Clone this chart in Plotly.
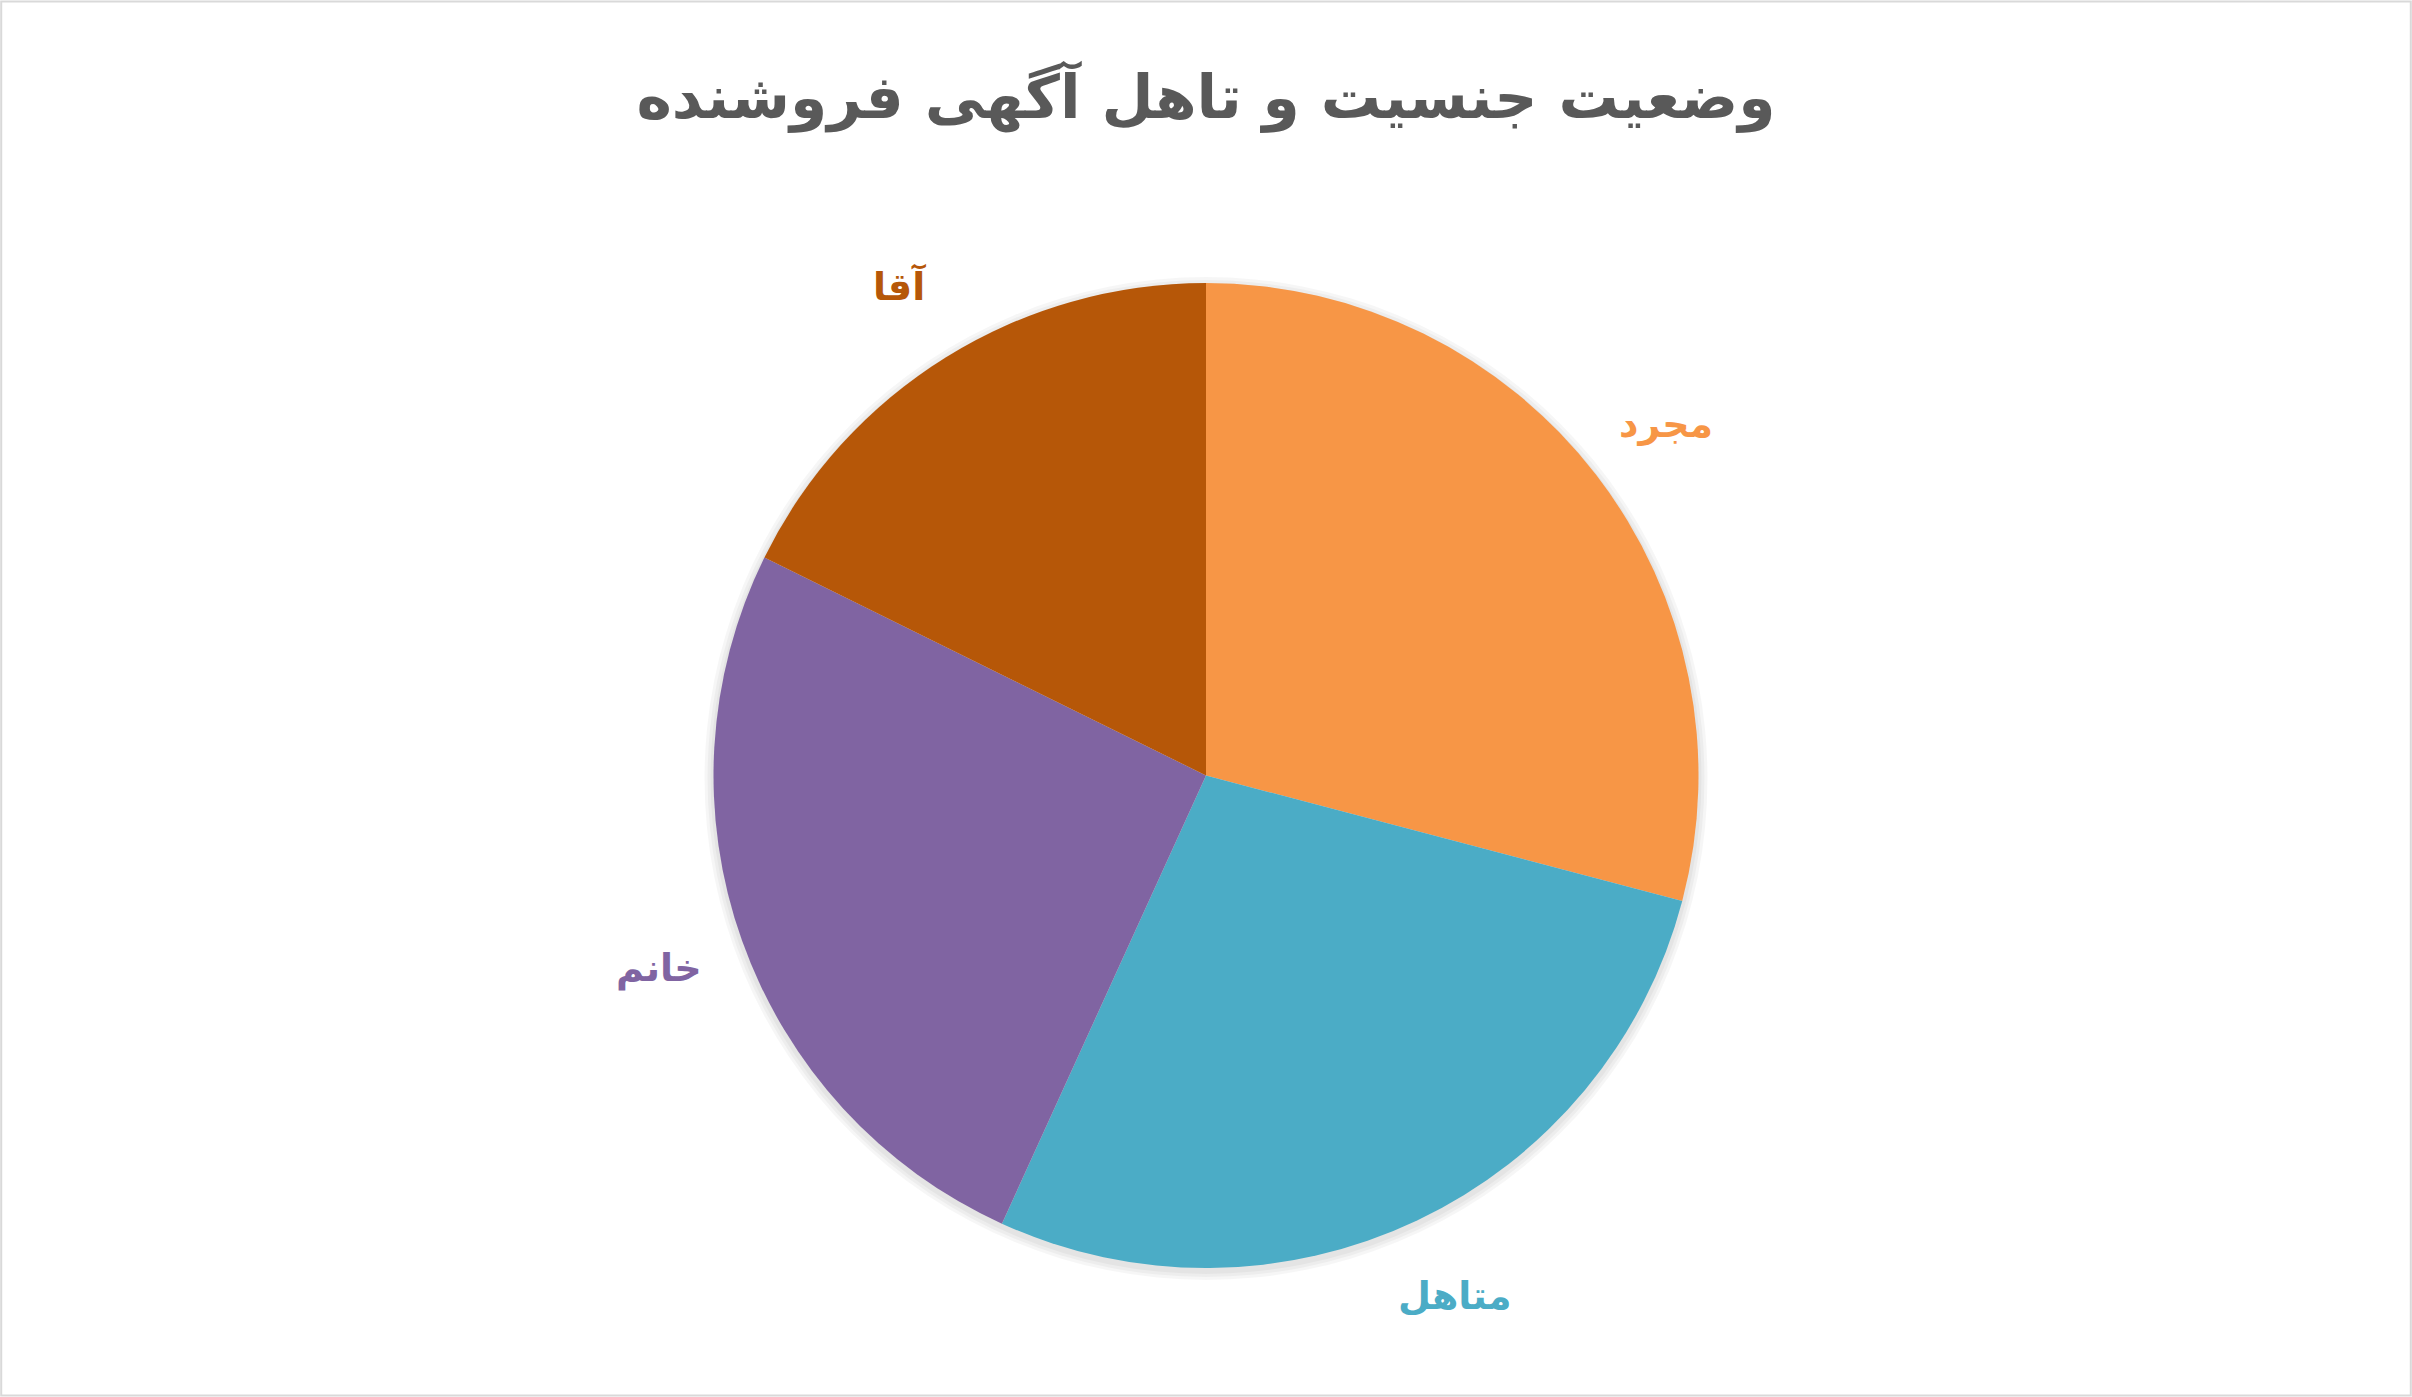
import math

import plotly.graph_objects as go

# داده‌های نمودار
categories = ["مجرد", "متاهل", "خانم", "آقا"]
shares = [29.1, 27.7, 25.5, 17.7]
slice_colors = ["#F79646", "#4BACC6", "#8064A2", "#B65708"]
chart_title = "وضعیت جنسیت و تاهل آگهی فروشنده"

W, H = 2412, 1397
PIE_TOP, PIE_BOTTOM = 283, 1268
FONT = "DejaVu Sans"

cx, cy = W / 2, (PIE_TOP + PIE_BOTTOM) / 2
r = (PIE_BOTTOM - PIE_TOP) / 2

fig = go.Figure()

# سایه ملایم زیر دایره
for grow in (9, 6, 3):
    rr = r + grow
    fig.add_trace(
        go.Pie(
            values=[1],
            textinfo="none",
            hoverinfo="skip",
            marker=dict(colors=["rgba(0,0,0,0.035)"], line=dict(width=0)),
            domain=dict(
                x=[(cx - rr) / W, (cx + rr) / W],
                y=[1 - (cy + 3 + rr) / H, 1 - (cy + 3 - rr) / H],
            ),
            showlegend=False,
        )
    )

fig.add_trace(
    go.Pie(
        labels=categories,
        values=shares,
        sort=False,
        direction="clockwise",
        rotation=0,
        textinfo="none",
        hoverinfo="label+percent",
        marker=dict(colors=slice_colors, line=dict(width=0)),
        domain=dict(x=[0, 1], y=[1 - PIE_BOTTOM / H, 1 - PIE_TOP / H]),
        showlegend=False,
    )
)

# برچسب‌ها بیرون از دایره، روی زاویه میانی هر برش
total = sum(shares)
acc = 0.0
for name, v, c in zip(categories, shares, slice_colors):
    mid = (acc + v / 2) / total * 2 * math.pi
    acc += v
    px = cx + 1.18 * r * math.sin(mid)
    py = cy - 1.17 * r * math.cos(mid)
    fig.add_annotation(
        x=px / W, y=1 - py / H, xref="paper", yref="paper",
        text=name, showarrow=False,
        font=dict(family=FONT, size=38, color=c, weight="bold"),
        xanchor="center", yanchor="middle",
    )

fig.add_shape(
    type="rect", xref="paper", yref="paper", x0=0.0005, y0=0.001, x1=0.9995, y1=0.999,
    line=dict(color="#D9D9D9", width=2),
)

fig.update_layout(
    width=W,
    height=H,
    title=dict(
        text=chart_title, x=0.5, xanchor="center", y=1 - 97 / H, yanchor="middle",
        font=dict(family=FONT, size=60, color="#595959", weight="bold"),
    ),
    margin=dict(l=0, r=0, t=0, b=0),
    paper_bgcolor="white",
    plot_bgcolor="white",
)

fig.write_html(
    "out.html",
    config=dict(displayModeBar=False),
    post_script="document.body.style.margin='0';",
)
